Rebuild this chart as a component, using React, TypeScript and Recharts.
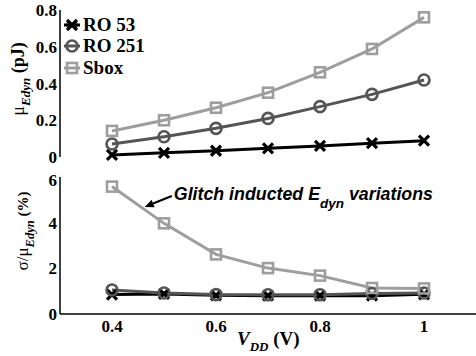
import { LineChart, Line, XAxis, YAxis, Legend, ReferenceLine, Customized } from 'recharts';

const vdd = [0.4, 0.5, 0.6, 0.7, 0.8, 0.9, 1.0];

// mean dynamic energy (pJ)
const ro53Mean = [0.011, 0.023, 0.034, 0.047, 0.06, 0.075, 0.089];
const ro251Mean = [0.071, 0.11, 0.156, 0.21, 0.274, 0.341, 0.419];
const sboxMean = [0.142, 0.2, 0.268, 0.35, 0.461, 0.588, 0.76];

// sigma / mean (%)
const ro53Var = [0.85, 0.88, 0.82, 0.8, 0.8, 0.8, 0.86];
const ro251Var = [1.05, 0.92, 0.85, 0.84, 0.84, 0.9, 0.92];
const sboxVar = [5.58, 3.97, 2.61, 2.01, 1.68, 1.14, 1.12];

const xTicks = [0.4, 0.6, 0.8, 1];
const meanTicks = [0, 0.2, 0.4, 0.6, 0.8];
const varTicks = [0, 2, 4, 6];

const series = [
  { key: 'ro53', name: 'RO 53', color: '#000000' },
  { key: 'ro251', name: 'RO 251', color: '#555555' },
  { key: 'sbox', name: 'Sbox', color: '#9e9e9e' },
];

const meanData = vdd.map((v, i) => ({ v, ro53: ro53Mean[i], ro251: ro251Mean[i], sbox: sboxMean[i] }));
const varData = vdd.map((v, i) => ({ v, ro53: ro53Var[i], ro251: ro251Var[i], sbox: sboxVar[i] }));

const serif = "'Liberation Serif'";
const sans = "'Liberation Sans'";
const tickFont = { fill: '#000', fontSize: 17, fontWeight: 'bold', fontFamily: serif };
const blank = () => '';

const XMark = ({ cx, cy }: any) => {
  if (cx == null || cy == null) return <g />;
  return (
    <path
      d={`M${cx - 5},${cy - 5}L${cx + 5},${cy + 5}M${cx - 5},${cy + 5}L${cx + 5},${cy - 5}`}
      stroke="#000"
      strokeWidth={3.2}
      fill="none"
    />
  );
};

const OMark = ({ cx, cy }: any) => {
  if (cx == null || cy == null) return <g />;
  return <circle cx={cx} cy={cy} r={5.5} fill="none" stroke="#555" strokeWidth={2.6} />;
};

const SqMark = ({ cx, cy }: any) => {
  if (cx == null || cy == null) return <g />;
  return <rect x={cx - 5} y={cy - 5} width={10} height={10} fill="none" stroke="#9e9e9e" strokeWidth={2.6} />;
};

const marks: any = { ro53: XMark, ro251: OMark, sbox: SqMark };

function LegendBox() {
  return (
    <div style={{ fontFamily: serif, fontWeight: 'bold', fontSize: 19, color: '#000' }}>
      {series.map((s) => {
        const M = marks[s.key];
        return (
          <div key={s.key} style={{ display: 'flex', alignItems: 'center', height: 21.5 }}>
            <svg width={20} height={16} style={{ marginRight: 1 }}>
              <line x1={2} y1={8} x2={18} y2={8} stroke={s.color} strokeWidth={3} />
              {s.key === 'ro53' && <line x1={4} y1={8} x2={16} y2={8} stroke="#000" strokeWidth={3} />}
              <M cx={10} cy={8} />
            </svg>
            <span>{s.name}</span>
          </div>
        );
      })}
    </div>
  );
}

function drawLines() {
  return series.map((s) => {
    const M = marks[s.key];
    return (
      <Line
        key={s.key}
        xAxisId="main"
        yAxisId="main"
        dataKey={s.key}
        name={s.name}
        stroke={s.color}
        strokeWidth={3}
        dot={(p: any) => <M key={`${s.key}-${p.index}`} cx={p.cx} cy={p.cy} />}
        isAnimationActive={false}
      />
    );
  });
}

const GlitchArrow = (p: any) => {
  const { x1, y1, x2, y2 } = p;
  const ang = Math.atan2(y2 - y1, x2 - x1);
  const len = 9;
  const w = 4;
  const bx = x2 - len * Math.cos(ang);
  const by = y2 - len * Math.sin(ang);
  const pts = [
    `${x2},${y2}`,
    `${bx + w * Math.sin(ang)},${by - w * Math.cos(ang)}`,
    `${bx - w * Math.sin(ang)},${by + w * Math.cos(ang)}`,
  ].join(' ');
  return (
    <g>
      <line x1={x1} y1={y1} x2={bx} y2={by} stroke="#000" strokeWidth={2} />
      <polygon points={pts} fill="#000" />
      <text x={x1 + 2} y={y1 + 4} fontFamily={sans} fontWeight="bold" fontStyle="italic" fontSize={17.8} fill="#000">
        Glitch inducted E
        <tspan fontSize={13.5} dy={8}>dyn</tspan>
        <tspan dy={-8}> variations</tspan>
      </text>
    </g>
  );
};

export default function App() {
  const W = 476;
  return (
    <div style={{ position: 'absolute', left: 0, top: 0, width: W, height: 356, background: '#fff' }}>
      <div style={{ position: 'absolute', left: 0, top: 0 }}>
        <LineChart width={W} height={170} data={meanData} margin={{ top: 10, right: 0, left: 0, bottom: 13 }}>
          <XAxis xAxisId="main" type="number" dataKey="v" domain={[0.3, 1.1]} ticks={xTicks} height={0} mirror
            tickSize={4} tickFormatter={blank} stroke="#000" strokeWidth={1.5} tick={{ fontSize: 1 }} />
          <XAxis xAxisId="top" orientation="top" type="number" dataKey="v" domain={[0.3, 1.1]} ticks={xTicks} height={0} mirror
            tickSize={4} tickFormatter={blank} stroke="#000" strokeWidth={1.2} tick={{ fontSize: 1 }} />
          <YAxis yAxisId="main" type="number" domain={[0, 0.8]} ticks={meanTicks} width={60} tickLine={false}
            tickSize={0} tickMargin={3} tick={tickFont} stroke="#000" strokeWidth={1.5} tickFormatter={(v: number) => String(v)} />
          <YAxis yAxisId="in" type="number" domain={[0, 0.8]} ticks={meanTicks} width={0} mirror axisLine={false}
            tickSize={4} tickFormatter={blank} stroke="#000" tick={{ fontSize: 1 }} />
          <YAxis yAxisId="right" orientation="right" type="number" domain={[0, 0.8]} ticks={meanTicks} width={0} mirror
            tickSize={4} tickFormatter={blank} stroke="#000" tick={{ fontSize: 1 }} />
          {drawLines()}
          <Legend layout="vertical" align="center" verticalAlign="middle" content={() => <LegendBox />}
            wrapperStyle={{ position: 'absolute', top: 14, left: 62, width: 'auto', height: 'auto' }} />
          <Customized component={() => (
            <text transform="rotate(-90, 24, 79)" x={24} y={79} textAnchor="middle" fontFamily={serif} fontWeight="bold" fontSize={18} fill="#000">
              <tspan fontWeight="normal">μ</tspan>
              <tspan fontSize={13} fontStyle="italic" dy={6}>Edyn</tspan>
              <tspan dy={-6}> (pJ)</tspan>
            </text>
          )} />
        </LineChart>
      </div>
      <div style={{ position: 'absolute', left: 0, top: 170 }}>
        <LineChart width={W} height={186} data={varData} margin={{ top: 7, right: 0, left: 0, bottom: 0 }}>
          <XAxis xAxisId="main" type="number" dataKey="v" domain={[0.3, 1.1]} ticks={xTicks} height={42} tickLine={false}
            tickSize={0} tickMargin={6} tick={tickFont} stroke="#000" strokeWidth={1.5} tickFormatter={(v: number) => String(v)} />
          <XAxis xAxisId="in" type="number" dataKey="v" domain={[0.3, 1.1]} ticks={xTicks} height={0} mirror axisLine={false}
            tickSize={4} tickFormatter={blank} stroke="#000" tick={{ fontSize: 1 }} />
          <XAxis xAxisId="top" orientation="top" type="number" dataKey="v" domain={[0.3, 1.1]} ticks={xTicks} height={0} mirror
            tickSize={4} tickFormatter={blank} stroke="#000" strokeWidth={1.2} tick={{ fontSize: 1 }} />
          <YAxis yAxisId="main" type="number" domain={[0, 6]} ticks={varTicks} width={60} tickLine={false}
            tickSize={0} tickMargin={3} tick={tickFont} stroke="#000" strokeWidth={1.5} />
          <YAxis yAxisId="in" type="number" domain={[0, 6]} ticks={varTicks} width={0} mirror axisLine={false}
            tickSize={4} tickFormatter={blank} stroke="#000" tick={{ fontSize: 1 }} />
          <YAxis yAxisId="right" orientation="right" type="number" domain={[0, 6]} ticks={varTicks} width={0} mirror
            tickSize={4} tickFormatter={blank} stroke="#000" tick={{ fontSize: 1 }} />
          {drawLines()}
          <ReferenceLine xAxisId="main" yAxisId="main" segment={[{ x: 0.515, y: 5.17 }, { x: 0.463, y: 4.69 }]}
            shape={GlitchArrow} ifOverflow="visible" />
          <Customized component={() => (
            <g>
              <text transform="rotate(-90, 28, 61)" x={28} y={61} textAnchor="middle" fontFamily={serif} fontWeight="bold" fontSize={17} fill="#000">
                <tspan fontWeight="normal">σ/μ</tspan>
                <tspan fontSize={12.5} fontStyle="italic" dy={6}>Edyn</tspan>
                <tspan dy={-6} fontSize={15}> (%)</tspan>
              </text>
              <text x={237} y={175} fontFamily={serif} fontWeight="bold" fontSize={19} fill="#000">
                <tspan fontStyle="italic">V</tspan>
                <tspan fontStyle="italic" fontSize={13} dy={6}>DD</tspan>
                <tspan dy={-6}> (V)</tspan>
              </text>
            </g>
          )} />
        </LineChart>
      </div>
    </div>
  );
}
